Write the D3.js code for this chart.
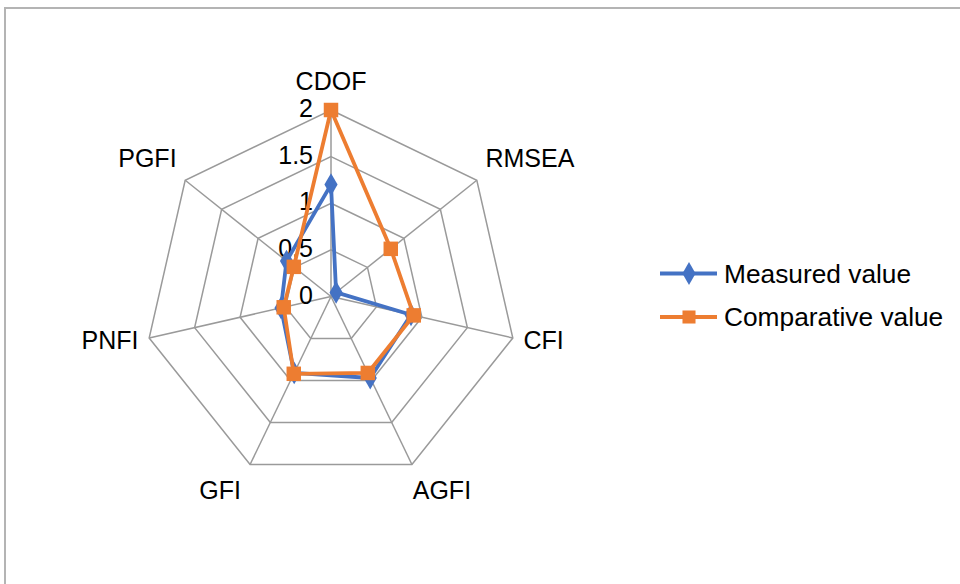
<!DOCTYPE html>
<html><head><meta charset="utf-8">
<script src="https://cdn.jsdelivr.net/npm/d3@7"></script>
<style>
html,body{margin:0;padding:0;background:#fff;}
svg{display:block;font-family:Arial,"Liberation Sans",sans-serif;}
</style></head>
<body>
<svg id="c" width="960" height="584"></svg>
<script>
const categories = ["CDOF","RMSEA","CFI","AGFI","GFI","PNFI","PGFI"];
const measured = [1.2, 0.07, 0.88, 0.97, 0.91, 0.55, 0.61];
const comparative = [2, 0.82, 0.91, 0.91, 0.92, 0.52, 0.51];
const tickValues = [0, 0.5, 1, 1.5, 2];
const tickLabels = ["0", "0.5", "1", "1.5", "2"];
const seriesNames = ["Measured value", "Comparative value"];
const seriesColors = ["#4472C4", "#ED7D31"];

const svg = d3.select("#c");
const cx = 331, cy = 296.5, R = 186.5;
const n = categories.length;
const angle = d3.scaleLinear().domain([0, n]).range([0, 2*Math.PI]);
const r = d3.scaleLinear().domain([0, 2]).range([0, R]);
const pt = (i, v) => [cx + Math.sin(angle(i))*r(v), cy - Math.cos(angle(i))*r(v)];

// border
svg.append("rect").attr("x",5).attr("y",8).attr("width",1200).attr("height",1200)
  .attr("fill","none").attr("stroke","#b4b4b4").attr("stroke-width",2);

const grid = svg.append("g").attr("stroke","#9a9a9a").attr("stroke-width",1.5).attr("fill","none");
tickValues.slice(1).forEach(t => {
  grid.append("path").attr("d", d3.line()(d3.range(n).map(i => pt(i, t))) + "Z");
});
d3.range(n).forEach(i => {
  grid.append("line").attr("x1",cx).attr("y1",cy).attr("x2",pt(i,2)[0]).attr("y2",pt(i,2)[1]);
});

// tick labels
svg.append("g").selectAll("text").data(tickValues).join("text")
  .attr("x", cx - 18).attr("y", d => cy - r(d) - 2)
  .attr("text-anchor","end").attr("dominant-baseline","central")
  .attr("font-size",25).attr("fill","#000").text((d,i) => tickLabels[i]);

// category labels
const lab = svg.append("g").attr("font-size",25).attr("fill","#000");
categories.forEach((c, i) => {
  const s = Math.sin(angle(i)), co = Math.cos(angle(i));
  let x, y, anchor;
  if (Math.abs(s) < 0.01) { x = cx; y = cy - R - 29; anchor = "middle"; }
  else if (Math.abs(co) > 0.85) { // bottom labels
    x = cx + s*(R) + Math.sign(s)*30; y = cy - co*R + 25; anchor = "middle";
  } else {
    x = cx + s*(R+11); y = cy - co*R + (co > 0 ? -22 : 2); anchor = s > 0 ? "start" : "end";
  }
  lab.append("text").attr("x",x).attr("y",y).attr("text-anchor",anchor)
    .attr("dominant-baseline","central").text(c);
});

// series
const data = [measured, comparative];
data.forEach((vals, k) => {
  const pts = vals.map((v,i) => pt(i, v));
  svg.append("path").attr("d", d3.line()(pts) + "Z").attr("fill","none")
    .attr("stroke", seriesColors[k]).attr("stroke-width",3.8).attr("stroke-linejoin","round");
  const sym = k === 0 ? d3.symbolDiamond : d3.symbolSquare;
  const size = k === 0 ? 150 : 210;
  svg.append("g").selectAll("path").data(pts).join("path")
    .attr("transform", d => `translate(${d[0]},${d[1]})`)
    .attr("d", d3.symbol().type(sym).size(size)).attr("fill", seriesColors[k]);
});

// legend
const lg = svg.append("g");
seriesNames.forEach((nm, k) => {
  const y = 273.5 + k*43.5;
  lg.append("line").attr("x1",660).attr("x2",717).attr("y1",y).attr("y2",y)
    .attr("stroke",seriesColors[k]).attr("stroke-width",3.8);
  lg.append("path").attr("transform",`translate(689,${y})`)
    .attr("d", d3.symbol().type(k===0?d3.symbolDiamond:d3.symbolSquare).size(k===0?150:170))
    .attr("fill",seriesColors[k]);
  lg.append("text").attr("x",724).attr("y",y).attr("dominant-baseline","central")
    .attr("font-size",26.3).attr("fill","#000").text(nm);
});
</script>
</body></html>
